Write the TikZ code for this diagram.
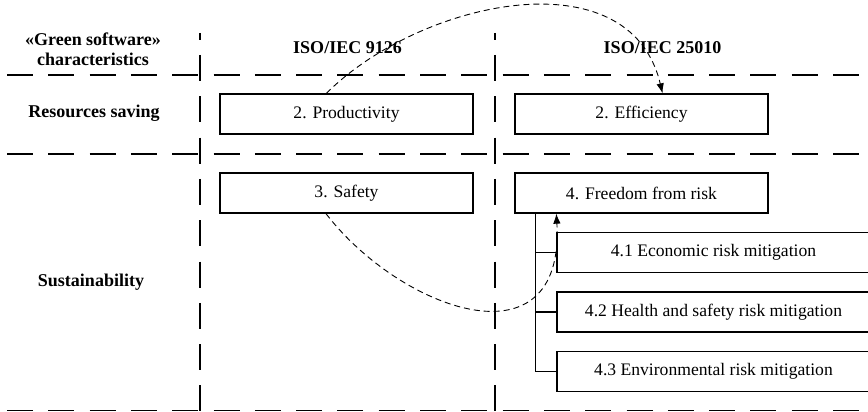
\documentclass[tikz,border=0pt]{standalone}
\usepackage{fontspec}
\setmainfont{Liberation Serif}
\usetikzlibrary{arrows.meta}
\tikzset{
  sep/.style={line width=1.8pt, dash pattern=on 26pt off 15.3pt},
  vsep/.style={line width=1.8pt, dash pattern=on 26pt off 15.3pt, dash phase=19.3pt},
  box/.style={draw, line width=1.3pt, minimum width=253pt, minimum height=40pt, inner sep=0pt, font=\fontsize{17.6}{20}\selectfont},
  subbox/.style={box, minimum width=313pt},
  hdr/.style={font=\fontsize{18}{20.4}\selectfont\bfseries, align=center, inner sep=0pt},
  tree/.style={line width=1.3pt},
  curve/.style={line width=0.9pt, dash pattern=on 6pt off 4pt, -{Latex[length=10pt,width=7.5pt]}}
}
\begin{document}
\begin{tikzpicture}[x=1pt,y=-1pt]
\useasboundingbox (0,0) rectangle (868,412);
% grid
\coordinate (hl1) at (7,75);
\coordinate (hr1) at (880,75);
\coordinate (hl2) at (7,154);
\coordinate (hr2) at (880,154);
\coordinate (hl3) at (7,410.5);
\coordinate (hr3) at (880,410.5);
\coordinate (va1) at (200,33);
\coordinate (vb1) at (200,410.5);
\coordinate (va2) at (495,33);
\coordinate (vb2) at (495,410.5);
\draw[sep] (hl1) -- (hr1);
\draw[sep] (hl2) -- (hr2);
\draw[sep] (hl3) -- (hr3);
\draw[vsep] (va1) -- (vb1);
\draw[vsep] (va2) -- (vb2);
% headers
\node[hdr] (gsc) at (93,49) {«Green software»\\characteristics};
\node[hdr] (iso1) at (347.5,48) {ISO/IEC 9126};
\node[hdr] (iso2) at (662.5,48) {ISO/IEC 25010};
\node[hdr] (res) at (94,113) {Resources saving};
\node[hdr] (sus) at (91,282) {Sustainability};
% boxes
\node[box] (prod) at (346.5,114) {2. Productivity};
\node[box] (eff) at (641.5,114) {2. Efficiency};
\node[box] (safe) at (346.5,193) {3. Safety};
\node[box] (free) at (641.5,193) {4. Freedom from risk};
\node[subbox] (e41) at (713.5,252.5) {4.1 Economic risk mitigation};
\node[subbox] (e42) at (713.5,312) {4.2 Health and safety risk mitigation};
\node[subbox] (e43) at (713.5,371.5) {4.3 Environmental risk mitigation};
% tree
\coordinate (t) at ([xshift=21pt]free.south west);
\draw[tree] (t) |- (e43.west);
\draw[tree] (t |- e41.west) -- (e41.west);
\draw[tree] (t |- e42.west) -- (e42.west);
% curves
\draw[curve] ([xshift=107pt]prod.north west) .. controls (420,0) and (630,-45) .. ([xshift=21pt]eff.north);
\draw[curve] ([xshift=-20.5pt]safe.south) .. controls (400,310) and (565,370) .. ([xshift=42pt]free.south west);
\end{tikzpicture}
\end{document}
